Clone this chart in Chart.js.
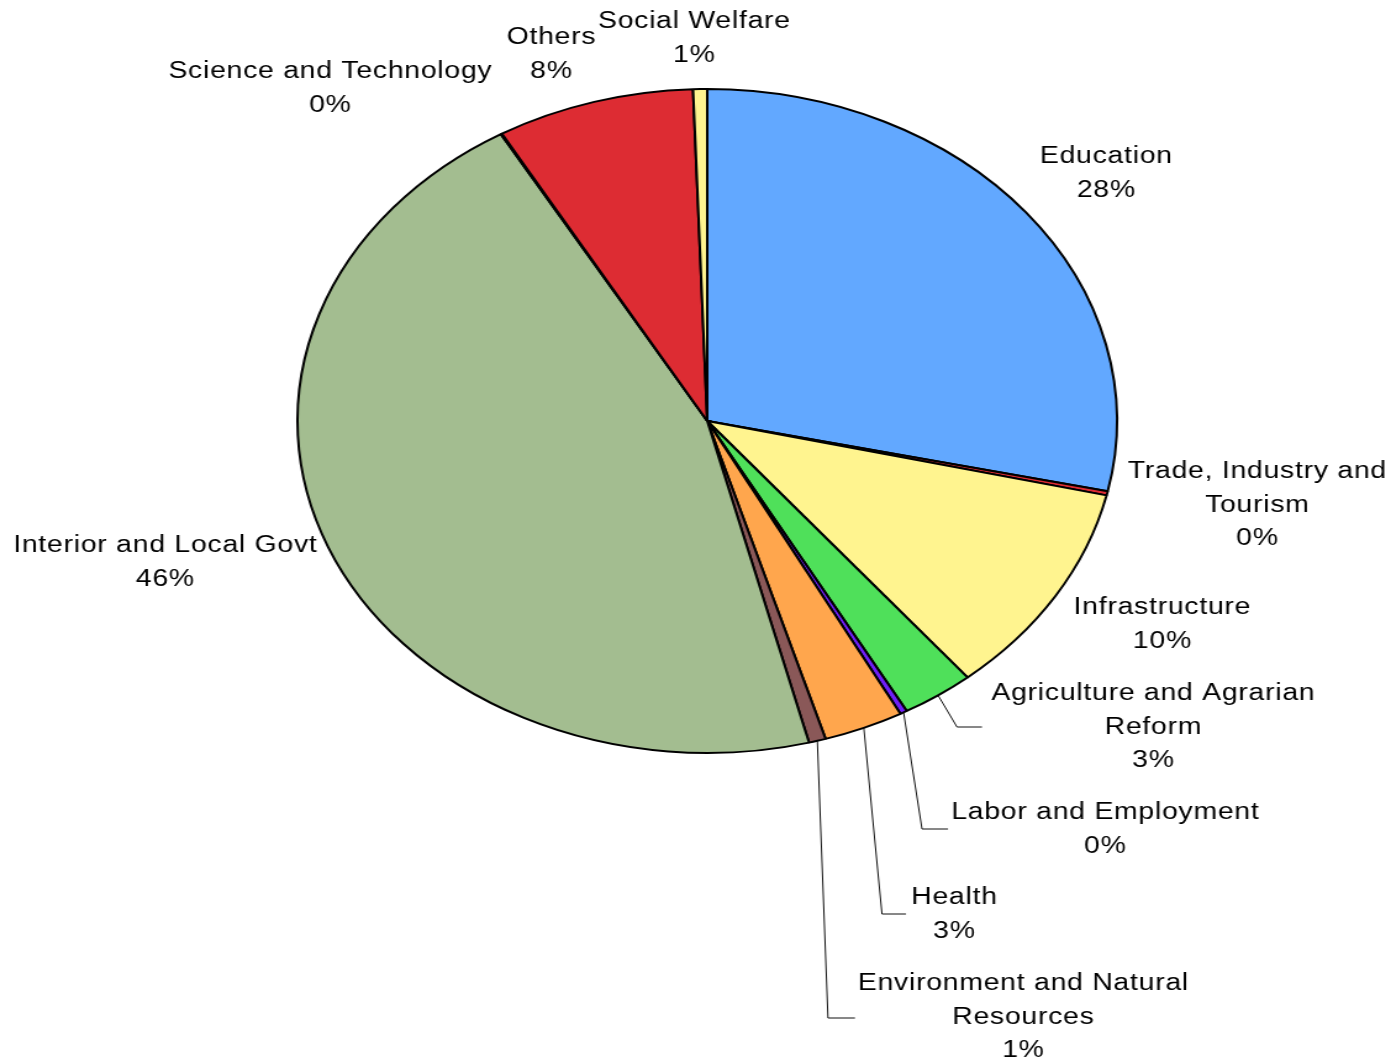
<!DOCTYPE html>
<html><head><meta charset="utf-8">
<script src="https://cdn.jsdelivr.net/npm/chart.js@4"></script>
<style>
html,body{margin:0;padding:0;background:#fff;overflow:hidden;width:1391px;height:1061px;}
#wrap{position:absolute;left:0;top:0;width:1127px;height:1061px;transform:scaleX(1.23425);transform-origin:0 0;}
canvas{display:block;}
</style></head><body>
<div id="wrap"><canvas id="c" width="1127" height="1061"></canvas></div>
<script>
// ---- data ----
const categories = [
  "Education",
  "Trade, Industry and Tourism",
  "Infrastructure",
  "Agriculture and Agrarian Reform",
  "Labor and Employment",
  "Health",
  "Environment and Natural Resources",
  "Interior and Local Govt",
  "Science and Technology",
  "Others",
  "Social Welfare"
];
const shares = [28.4, 0.2, 10.45, 2.86, 0.28, 3.15, 0.67, 45.6, 0.05, 7.8, 0.55];
const sliceColors = [
  "#62A8FF", "#DD2C33", "#FFF48F", "#4FE05A", "#7020F8", "#FFA64D",
  "#8A5858", "#A3BD90", "#C0C0C0", "#DD2C33", "#FFF48F"
];

// ---- layout (label placement, screen px) ----
const SX = 1391 / 1127;
const labelLines = [
  ["Education"],
  ["Trade, Industry and", "Tourism"],
  ["Infrastructure"],
  ["Agriculture and Agrarian", "Reform"],
  ["Labor and Employment"],
  ["Health"],
  ["Environment and Natural", "Resources"],
  ["Interior and Local Govt"],
  ["Science and Technology"],
  ["Others"],
  ["Social Welfare"]
];
// [centerX, firstBaselineY, elbowX, elbowY, endX] (leader only where given)
const labelPos = [
  [1106, 163],
  [1257, 478],
  [1162, 614],
  [1153, 700, 957, 727, 982],
  [1105, 819, 922, 829, 948],
  [954, 904, 882, 914, 906],
  [1023, 990, 828, 1018, 855],
  [165, 552],
  [330, 78],
  [551, 44],
  [694, 28]
];
const lineStep = 33.5;

const labelPlugin = {
  id: 'sliceLabels',
  afterDraw(chart) {
    const ctx = chart.ctx;
    const meta = chart.getDatasetMeta(0);
    const data = chart.data.datasets[0].data;
    const total = data.reduce((a, b) => a + b, 0);
    ctx.save();
    meta.data.forEach((arc, i) => {
      const p = labelPos[i];
      const props = arc.getProps(['x', 'y', 'startAngle', 'endAngle', 'outerRadius'], true);
      if (p.length > 2) {
        const mid = (props.startAngle + props.endAngle) / 2;
        const sx = props.x + Math.cos(mid) * props.outerRadius;
        const sy = props.y + Math.sin(mid) * props.outerRadius;
        ctx.beginPath();
        ctx.strokeStyle = '#111';
        ctx.lineWidth = 1;
        ctx.moveTo(sx, sy);
        ctx.lineTo(p[2] / SX, p[3]);
        ctx.lineTo(p[4] / SX, p[3]);
        ctx.stroke();
      }
      const pct = Math.round(data[i] / total * 100) + '%';
      const lines = labelLines[i].concat([pct]);
      ctx.fillStyle = '#000';
      ctx.font = '23px "Liberation Sans", Arial, sans-serif';
      ctx.letterSpacing = '0.6px';
      ctx.textAlign = 'center';
      ctx.textBaseline = 'alphabetic';
      lines.forEach((t, k) => {
        ctx.fillText(t, p[0] / SX + 0.3, p[1] + k * lineStep);
      });
    });
    ctx.restore();
  }
};

new Chart(document.getElementById('c'), {
  type: 'pie',
  data: {
    labels: categories,
    datasets: [{
      data: shares,
      backgroundColor: sliceColors,
      borderColor: '#000',
      borderWidth: 2,
      borderAlign: 'center'
    }]
  },
  options: {
    responsive: false,
    animation: false,
    devicePixelRatio: 1,
    layout: { padding: { left: 240, top: 88, right: 221, bottom: 307 } },
    plugins: { legend: { display: false }, tooltip: { enabled: false } }
  },
  plugins: [labelPlugin]
});
</script>
</body></html>
